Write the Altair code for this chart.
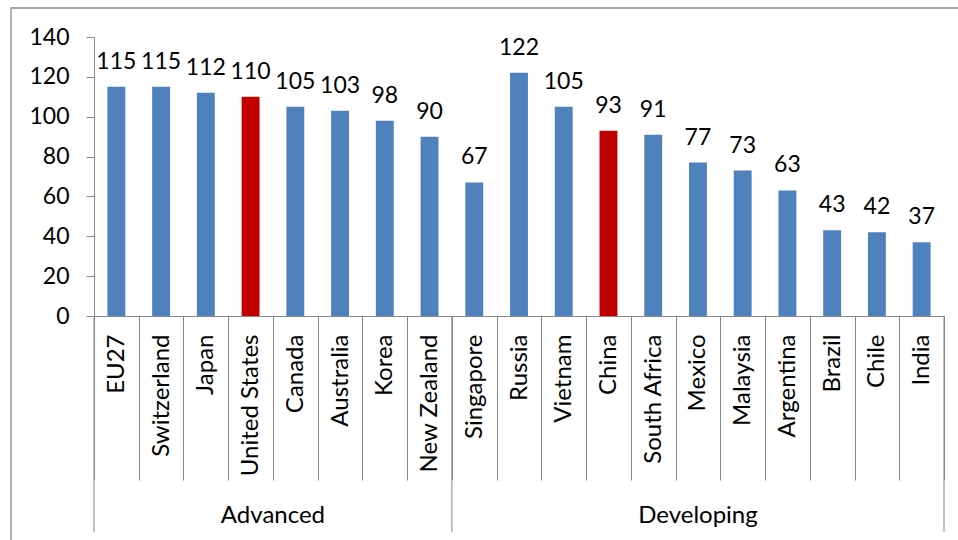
import altair as alt
import pandas as pd

# Chart values
countries = ["EU27", "Switzerland", "Japan", "United States", "Canada", "Australia",
             "Korea", "New Zealand", "Singapore", "Russia", "Vietnam", "China",
             "South Africa", "Mexico", "Malaysia", "Argentina", "Brazil", "Chile", "India"]
values = [115, 115, 112, 110, 105, 103, 98, 90, 67, 122, 105, 93, 91, 77, 73, 63, 43, 42, 37]
groups = ["Advanced"] * 8 + ["Developing"] * 11
group_names = ["Advanced", "Developing"]
highlighted = ["United States", "China"]
y_ticks = [0, 20, 40, 60, 80, 100, 120, 140]

W, H = 850, 279
FONT = "Lato"
FS_NUM = 23    # numbers (axis ticks and bar values)
FS_TXT = 24    # country and group names
GRAY = "#878787"
BLUE = "#4F81BD"
RED = "#C00000"

df = pd.DataFrame({"country": countries, "value": values, "group": groups})
df["highlight"] = ["yes" if c in highlighted else "no" for c in countries]

# group extents in category units (one unit per country)
sizes = [groups.count(g) for g in group_names]
starts = [sum(sizes[:i]) for i in range(len(sizes))]
group_df = pd.DataFrame({"group": group_names,
                         "mid": [s + n / 2 for s, n in zip(starts, sizes)]})
bounds_df = pd.DataFrame({"pos": starts + [len(countries)]})
n_cat = len(countries)

x_band = alt.X(
    "country:N", sort=countries,
    scale=alt.Scale(domain=countries, paddingInner=0, paddingOuter=0),
    axis=alt.Axis(title=None, labelAngle=-90, tickBand="extent", tickSize=164,
                  labelPadding=-146, labelFont=FONT, labelFontSize=FS_TXT,
                  labelColor="black", domainColor=GRAY, tickColor=GRAY,
                  labelLimit=300, labelOverlap=False),
)
y_val = alt.Y(
    "value:Q",
    scale=alt.Scale(domain=[0, 140], nice=False),
    axis=alt.Axis(title=None, values=y_ticks, grid=False, tickSize=8, labelPadding=17,
                  labelFont=FONT, labelFontSize=FS_NUM, labelColor="black",
                  domainColor=GRAY, tickColor=GRAY, labelOverlap=False),
)

base = alt.Chart(df)

bars = base.mark_bar(width=alt.RelativeBandSize(0.4)).encode(
    x=x_band,
    y=y_val,
    color=alt.Color("highlight:N",
                    scale=alt.Scale(domain=["no", "yes"], range=[BLUE, RED]),
                    legend=None),
)

value_labels = base.mark_text(dy=-18, baseline="alphabetic", font=FONT,
                              fontSize=FS_NUM, color="black").encode(
    x=x_band,
    y=y_val,
    text="value:Q",
)

# bars and their labels share one band scale
bar_layer = alt.layer(bars, value_labels)

pos_scale = alt.Scale(domain=[0, n_cat], nice=False, zero=False)

separators = alt.Chart(bounds_df).mark_rule(color=GRAY, strokeWidth=1).encode(
    x=alt.X("pos:Q", scale=pos_scale, axis=None),
    y=alt.value(H),
    y2=alt.value(H + 216),
)

group_labels = alt.Chart(group_df).mark_text(baseline="alphabetic", font=FONT,
                                             fontSize=FS_TXT, color="black").encode(
    x=alt.X("mid:Q", scale=pos_scale, axis=None),
    y=alt.value(H + 207),
    text="group:N",
)

frame = alt.Chart(alt.Data(values=[{"k": 1}])).mark_rect(
    fillOpacity=0, stroke=GRAY, strokeWidth=1.3
).encode(
    x=alt.value(-83), x2=alt.value(W + 60),
    y=alt.value(-29), y2=alt.value(H + 300),
)

chart = alt.layer(frame, bar_layer, separators, group_labels).resolve_scale(
    x="independent"
).properties(
    width=W, height=H,
    padding={"left": 94, "top": 37, "right": 14, "bottom": 224},
    autosize=alt.AutoSizeParams(type="none"),
    background="white",
).configure_view(stroke=None)

chart.save("out.html", embed_options={"renderer": "svg", "actions": False})
